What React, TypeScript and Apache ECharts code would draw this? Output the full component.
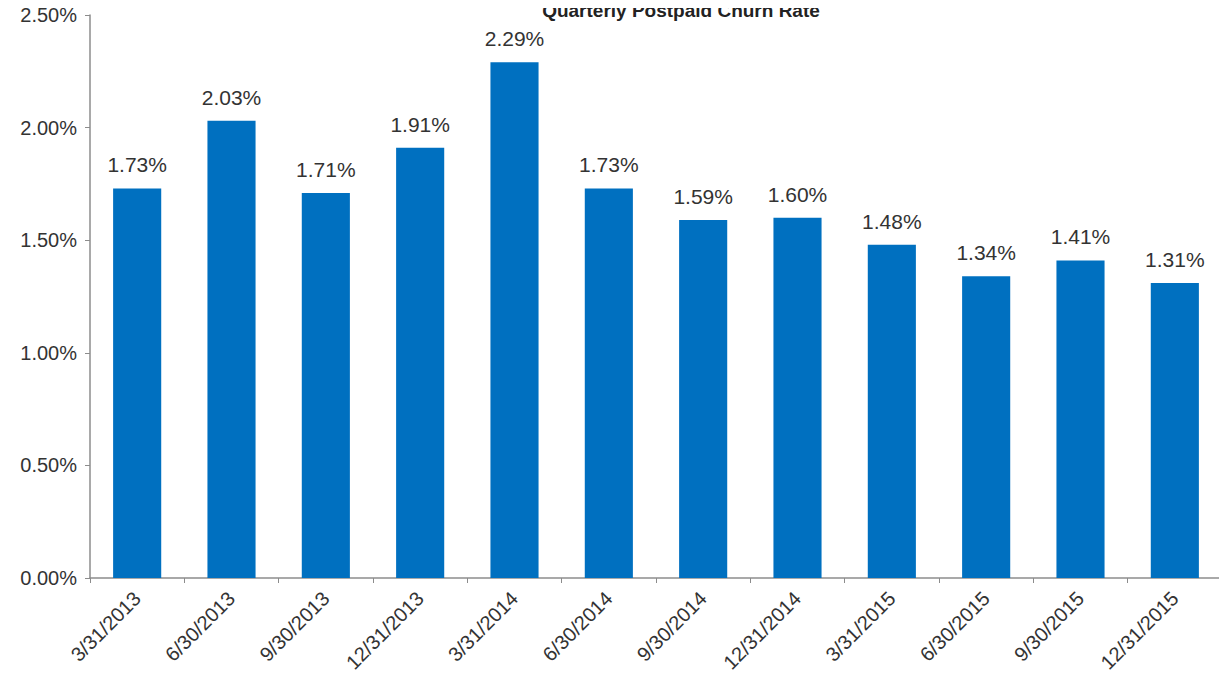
import React, { useEffect, useRef } from "react";
import * as echarts from "echarts";

const categories = [
  "3/31/2013", "6/30/2013", "9/30/2013", "12/31/2013",
  "3/31/2014", "6/30/2014", "9/30/2014", "12/31/2014",
  "3/31/2015", "6/30/2015", "9/30/2015", "12/31/2015",
];
const churnRate = [1.73, 2.03, 1.71, 1.91, 2.29, 1.73, 1.59, 1.6, 1.48, 1.34, 1.41, 1.31];
const titleText = "Quarterly Postpaid Churn Rate";

export default function App() {
  const ref = useRef<HTMLDivElement>(null);
  useEffect(() => {
    if (!ref.current) return;
    const chart = echarts.init(ref.current, undefined, { renderer: "svg" });
    const font = "Liberation Sans, Arial, sans-serif";
    chart.setOption({
      animation: false,
      backgroundColor: "#fff",
      title: {
        text: titleText,
        left: 681,
        textAlign: "center",
        top: 1,
        padding: 0,
        textStyle: { fontFamily: font, fontSize: 19, fontWeight: "bold", color: "#222" },
      },
      grid: { left: 90, right: 5, top: 15, bottom: 103, containLabel: false },
      xAxis: {
        type: "category",
        data: categories,
        boundaryGap: true,
        axisLine: { lineStyle: { color: "#8c8c8c", width: 1.5 } },
        axisTick: { show: true, alignWithLabel: false, length: 5, lineStyle: { color: "#8c8c8c" } },
        axisLabel: {
          rotate: 45,
          interval: 0,
          margin: 17,
          fontFamily: font,
          fontSize: 20,
          color: "#333",
        },
      },
      yAxis: {
        type: "value",
        min: 0,
        max: 2.5,
        interval: 0.5,
        splitLine: { show: false },
        axisLine: { show: true, lineStyle: { color: "#8c8c8c", width: 1.5 } },
        axisTick: { show: true, length: 5, lineStyle: { color: "#8c8c8c" } },
        axisLabel: {
          margin: 13,
          fontFamily: font,
          fontSize: 20,
          color: "#333",
          formatter: (v: number) => v.toFixed(2) + "%",
        },
      },
      series: [
        {
          type: "bar",
          data: churnRate,
          barWidth: "51%",
          itemStyle: { color: "#0070C0" },
          label: {
            show: true,
            position: "top",
            distance: 13,
            fontFamily: font,
            fontSize: 21,
            color: "#333",
            formatter: (p: any) => p.value.toFixed(2) + "%",
          },
        },
      ],
    });
    return () => chart.dispose();
  }, []);
  return <div ref={ref} style={{ width: 1227, height: 681, margin: -8 }} />;
}
